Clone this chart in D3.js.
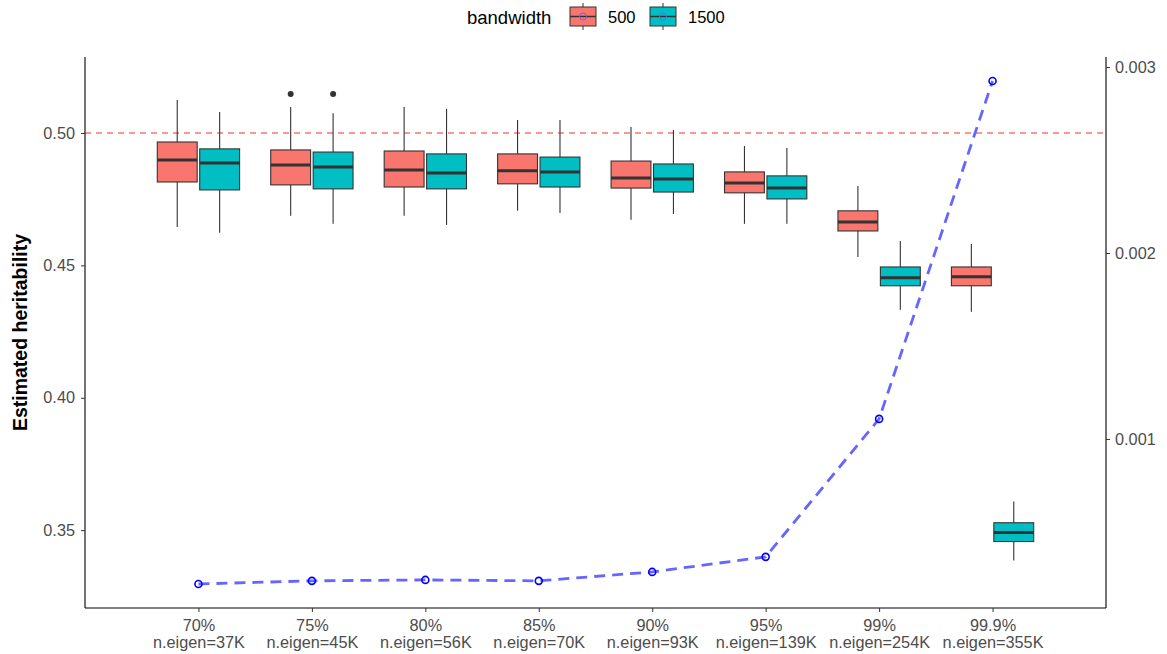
<!DOCTYPE html>
<meta charset="utf-8">
<style>
body { margin: 0; background: #fff; }
text { font-family: "Liberation Sans", Arial, sans-serif; }
.tick text { fill: #4d4d4d; font-size: 16.3px; }
</style>
<body>
<script src="https://cdnjs.cloudflare.com/ajax/libs/d3/7.8.5/d3.min.js"></script>
<script>

var categories = ["70%", "75%", "80%", "85%", "90%", "95%", "99%", "99.9%"];
var neigen = ["37K", "45K", "56K", "70K", "93K", "139K", "254K", "355K"];
var bandwidths = ["500", "1500"];

// [lower whisker, Q1, median, Q3, upper whisker] per category
var stats500 = [
  [0.4645, 0.4815, 0.4898, 0.4966, 0.5125],
  [0.4687, 0.4804, 0.4879, 0.4936, 0.5098],
  [0.4687, 0.4796, 0.4860, 0.4932, 0.5098],
  [0.4706, 0.4808, 0.4857, 0.4921, 0.5049],
  [0.4672, 0.4792, 0.4830, 0.4894, 0.5023],
  [0.4657, 0.4774, 0.4811, 0.4853, 0.4951],
  [0.4532, 0.4630, 0.4664, 0.4706, 0.4800],
  [0.4325, 0.4423, 0.4457, 0.4494, 0.4581]
];
var stats1500 = [
  [0.4623, 0.4785, 0.4887, 0.4940, 0.5079],
  [0.4657, 0.4789, 0.4872, 0.4928, 0.5075],
  [0.4653, 0.4789, 0.4849, 0.4921, 0.5091],
  [0.4698, 0.4796, 0.4853, 0.4909, 0.5049],
  [0.4694, 0.4777, 0.4826, 0.4883, 0.5011],
  [0.4657, 0.4751, 0.4792, 0.4838, 0.4943],
  [0.4332, 0.4423, 0.4453, 0.4494, 0.4592],
  [0.3385, 0.3457, 0.3491, 0.3528, 0.3608]
];
var outliers500 = [[1, 0.5147]];
var outliers1500 = [[1, 0.5147]];

// secondary axis series
var lineValues = [0.00022, 0.000237, 0.000242, 0.000237, 0.000285, 0.000366, 0.001108, 0.002925];

var leftTicks = [0.35, 0.40, 0.45, 0.50];
var rightTicks = [0.001, 0.002, 0.003];

var width = 1167, height = 654;
var margin = {top: 57, right: 61, bottom: 46, left: 85};
var fills = {"500": "#F8766D", "1500": "#00BFC4"};

var svg = d3.select("body").append("svg")
    .attr("width", width)
    .attr("height", height);

var x = d3.scalePoint()
    .domain(categories)
    .range([margin.left, width - margin.right])
    .padding(1);

var y = d3.scaleLinear()
    .domain([0.3206, 0.5287])
    .range([height - margin.bottom, margin.top]);

var y2 = d3.scaleLinear()
    .domain([0.000091, 0.003054])
    .range([height - margin.bottom, margin.top]);

var dodge = d3.scaleBand()
    .domain(bandwidths)
    .range([-42, 42])
    .paddingInner(0.06)
    .paddingOuter(0.02);

// reference line at 0.5
svg.append("line")
    .attr("x1", margin.left).attr("x2", width - margin.right)
    .attr("y1", y(0.5)).attr("y2", y(0.5))
    .attr("stroke", "#F8766D")
    .attr("stroke-width", 1.3)
    .attr("stroke-dasharray", "6,5");

function drawBoxes(stats, outs, bw) {
  var g = svg.append("g");
  var bwid = dodge.bandwidth();
  stats.forEach(function(s, i) {
    var cx = x(categories[i]) + dodge(bw) + bwid / 2;
    g.append("line")
        .attr("x1", cx).attr("x2", cx)
        .attr("y1", y(s[0])).attr("y2", y(s[4]))
        .attr("stroke", "#333").attr("stroke-width", 1.1);
    g.append("rect")
        .attr("x", cx - bwid / 2)
        .attr("y", y(s[3]))
        .attr("width", bwid)
        .attr("height", y(s[1]) - y(s[3]))
        .attr("fill", fills[bw])
        .attr("stroke", "#333").attr("stroke-width", 1.1);
    g.append("line")
        .attr("x1", cx - bwid / 2).attr("x2", cx + bwid / 2)
        .attr("y1", y(s[2])).attr("y2", y(s[2]))
        .attr("stroke", "#333").attr("stroke-width", 3);
  });
  outs.forEach(function(o) {
    g.append("circle")
        .attr("cx", x(categories[o[0]]) + dodge(bw) + bwid / 2)
        .attr("cy", y(o[1]))
        .attr("r", 3)
        .attr("fill", "#333");
  });
}
drawBoxes(stats500, outliers500, "500");
drawBoxes(stats1500, outliers1500, "1500");

// secondary series line
var line = d3.line()
    .x(function(d, i) { return x(categories[i]); })
    .y(function(d) { return y2(d); });

svg.append("path")
    .datum(lineValues)
    .attr("d", line)
    .attr("fill", "none")
    .attr("stroke", "#6666ff")
    .attr("stroke-width", 2.8)
    .attr("stroke-dasharray", "11,7");

svg.selectAll(".pt")
    .data(lineValues)
  .enter().append("circle")
    .attr("class", "pt")
    .attr("cx", function(d, i) { return x(categories[i]); })
    .attr("cy", function(d) { return y2(d); })
    .attr("r", 3.5)
    .attr("fill", "none")
    .attr("stroke", "#0000ff")
    .attr("stroke-width", 1.6);

// axes
var xAxis = svg.append("g")
    .attr("transform", "translate(0," + (height - margin.bottom) + ")")
    .call(d3.axisBottom(x).tickSize(4).tickFormat(""));
xAxis.select(".domain").attr("stroke", "#000").attr("stroke-width", 1.1)
    .attr("d", "M" + margin.left + ",0H" + (width - margin.right));
xAxis.selectAll(".tick line").attr("stroke", "#333");
xAxis.selectAll(".tick").each(function(d, i) {
  var t = d3.select(this).append("text")
      .attr("text-anchor", "middle")
      .attr("fill", "#4d4d4d");
  t.append("tspan").attr("x", 0).attr("y", 23).text(d);
  t.append("tspan").attr("x", 0).attr("y", 40).text("n.eigen=" + neigen[i]);
});

var yAxis = svg.append("g")
    .attr("transform", "translate(" + margin.left + ",0)")
    .call(d3.axisLeft(y).tickValues(leftTicks).tickSize(4).tickPadding(6).tickFormat(d3.format(".2f")));
yAxis.select(".domain").attr("stroke", "#000").attr("stroke-width", 1.1)
    .attr("d", "M0," + margin.top + "V" + (height - margin.bottom));
yAxis.selectAll(".tick line").attr("stroke", "#333");

var y2Axis = svg.append("g")
    .attr("transform", "translate(" + (width - margin.right) + ",0)")
    .call(d3.axisRight(y2).tickValues(rightTicks).tickSize(4).tickPadding(5).tickFormat(d3.format(".3f")));
y2Axis.select(".domain").attr("stroke", "#000").attr("stroke-width", 1.1)
    .attr("d", "M0," + margin.top + "V" + (height - margin.bottom));
y2Axis.selectAll(".tick line").attr("stroke", "#333");

svg.append("text")
    .attr("transform", "translate(27," + ((margin.top + height - margin.bottom) / 2) + ") rotate(-90)")
    .attr("text-anchor", "middle")
    .attr("font-size", "19.5px")
    .attr("font-weight", "bold")
    .text("Estimated heritability");

// legend
var legend = svg.append("g");
legend.append("text")
    .attr("x", 467).attr("y", 24)
    .attr("font-size", "18.5px")
    .text("bandwidth");
var legendX = [570, 650];
bandwidths.forEach(function(bw, i) {
  var lg = legend.append("g").attr("transform", "translate(" + legendX[i] + ",3)");
  lg.append("line").attr("x1", 13).attr("x2", 13).attr("y1", 0).attr("y2", 27)
      .attr("stroke", "#333").attr("stroke-width", 1);
  lg.append("rect").attr("x", 0).attr("y", 4).attr("width", 26).attr("height", 19)
      .attr("fill", fills[bw]).attr("stroke", "#333").attr("stroke-width", 1);
  lg.append("line").attr("x1", 0).attr("x2", 26).attr("y1", 13.5).attr("y2", 13.5)
      .attr("stroke", "#333").attr("stroke-width", 1.5);
  lg.append("circle").attr("cx", 13).attr("cy", 13.5).attr("r", 3.5)
      .attr("fill", "none").attr("stroke", "#6666ff").attr("stroke-width", 1);
  legend.append("text")
      .attr("x", legendX[i] + 38).attr("y", 23)
      .attr("font-size", "16.5px")
      .text(bw);
});

</script>
